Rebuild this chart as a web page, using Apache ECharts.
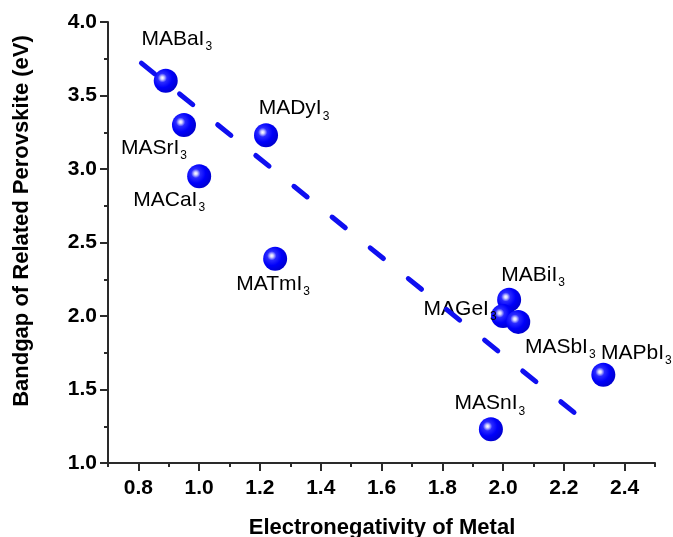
<!DOCTYPE html>
<html>
<head>
<meta charset="utf-8">
<style>
html,body{margin:0;padding:0;background:#fff;}
#chart{width:673px;height:537px;}
</style>
<script src="https://cdn.jsdelivr.net/npm/echarts@6/dist/echarts.min.js"></script>
</head>
<body>
<div id="chart"></div>
<script>
// ---- data ----
const compounds = ['MABaI', 'MASrI', 'MACaI', 'MADyI', 'MATmI', 'MABiI', 'MAGeI', 'MASbI', 'MAPbI', 'MASnI'];
const electronegativity = [0.89, 0.95, 1.00, 1.22, 1.25, 2.02, 2.00, 2.05, 2.33, 1.96];
const bandgap = [3.60, 3.30, 2.95, 3.23, 2.39, 2.11, 2.00, 1.96, 1.60, 1.23];
const trendX = [0.81, 2.29];
const trendY = [3.72, 1.25];
const xMajorTicks = [0.8, 1.0, 1.2, 1.4, 1.6, 1.8, 2.0, 2.2, 2.4];
const xMinorTicks = [0.7, 0.9, 1.1, 1.3, 1.5, 1.7, 1.9, 2.1, 2.3, 2.5];
const xTitle = 'Electronegativity of Metal';
const yTitle = 'Bandgap of Related Perovskite (eV)';

// ---- layout (label offsets in px, relative to the marker centre) ----
const labelOffsets = {
  MABaI: [11, -42], MASrI: [-30, 23], MACaI: [-30, 23], MADyI: [28, -27],
  MATmI: [-2, 25], MABiI: [24, -25], MAGeI: [-43, -7], MASbI: [42, 25],
  MAPbI: [33, -22], MASnI: [-1, -26]
};

const FONT = 'Arial, "Liberation Sans", Helvetica, sans-serif';
const chart = echarts.init(document.getElementById('chart'), null, {renderer: 'canvas'});

const ballColor = new echarts.graphic.RadialGradient(0.36, 0.38, 0.68, [
  {offset: 0, color: '#ffffff'},
  {offset: 0.1, color: '#d0d0ff'},
  {offset: 0.28, color: '#2a2aff'},
  {offset: 0.6, color: '#0000fa'},
  {offset: 1, color: '#0000cc'}
]);

const scatterData = compounds.map((n, i) => ({
  value: [electronegativity[i], bandgap[i]],
  name: n,
  label: {offset: labelOffsets[n]}
}));

const option = {
  animation: false,
  backgroundColor: '#ffffff',
  grid: {left: 108, right: 18, top: 22, bottom: 74, containLabel: false},
  xAxis: [{
    type: 'value', min: 0.7, max: 2.5, position: 'bottom',
    axisLine: {show: true, onZero: false, lineStyle: {color: '#2a2a2a', width: 2}},
    axisTick: {show: true, customValues: xMajorTicks, length: 8, lineStyle: {color: '#2a2a2a', width: 2}},
    axisLabel: {customValues: xMajorTicks, formatter: v => v.toFixed(1), fontSize: 21, fontWeight: 'bold', fontFamily: FONT, color: '#000', margin: 15},
    splitLine: {show: false}
  }, {
    type: 'value', min: 0.7, max: 2.5, position: 'bottom',
    axisLine: {show: false, onZero: false},
    axisTick: {show: true, customValues: xMinorTicks, length: 4, lineStyle: {color: '#2a2a2a', width: 2}},
    axisLabel: {show: false},
    splitLine: {show: false}
  }],
  yAxis: {
    type: 'value', min: 1, max: 4, interval: 0.5,
    axisLine: {show: true, onZero: false, lineStyle: {color: '#2a2a2a', width: 2}},
    axisTick: {show: true, length: 8, lineStyle: {color: '#2a2a2a', width: 2}},
    minorTick: {show: true, splitNumber: 2, length: 4, lineStyle: {color: '#2a2a2a', width: 2}},
    axisLabel: {formatter: v => v.toFixed(1), fontSize: 21, fontWeight: 'bold', fontFamily: FONT, color: '#000', margin: 11},
    splitLine: {show: false}
  },
  series: [{
    type: 'scatter',
    data: scatterData,
    symbol: 'circle',
    symbolSize: 24,
    itemStyle: {color: ballColor, opacity: 1},
    z: 2,
    label: {
      show: true,
      position: 'inside',
      color: '#000',
      textBorderWidth: 0,
      formatter: p => '{m|' + p.name + '}{s|3}',
      rich: {
        m: {fontSize: 21, fontFamily: FONT, color: '#000', textBorderWidth: 0, lineHeight: 22, verticalAlign: 'bottom'},
        s: {fontSize: 12, fontFamily: FONT, color: '#000', textBorderWidth: 0, lineHeight: 12, verticalAlign: 'bottom', padding: [0, 0, -3, 1]}
      }
    },
    emphasis: {disabled: true}
  }, {
    type: 'line',
    data: trendX.map((x, i) => [x, trendY[i]]),
    symbol: 'none',
    z: 5,
    lineStyle: {color: '#0f0ff0', width: 5, type: [17, 32], cap: 'round'},
    emphasis: {disabled: true}
  }],
  graphic: [{
    type: 'text', x: 22, y: 221, rotation: Math.PI / 2,
    style: {text: yTitle, font: 'bold 22px ' + FONT, fill: '#000', textAlign: 'center', textVerticalAlign: 'middle'}
  }, {
    type: 'text', x: 382, y: 528,
    style: {text: xTitle, font: 'bold 22px ' + FONT, fill: '#000', textAlign: 'center', textVerticalAlign: 'middle'}
  }]
};
chart.setOption(option);
</script>
</body>
</html>
